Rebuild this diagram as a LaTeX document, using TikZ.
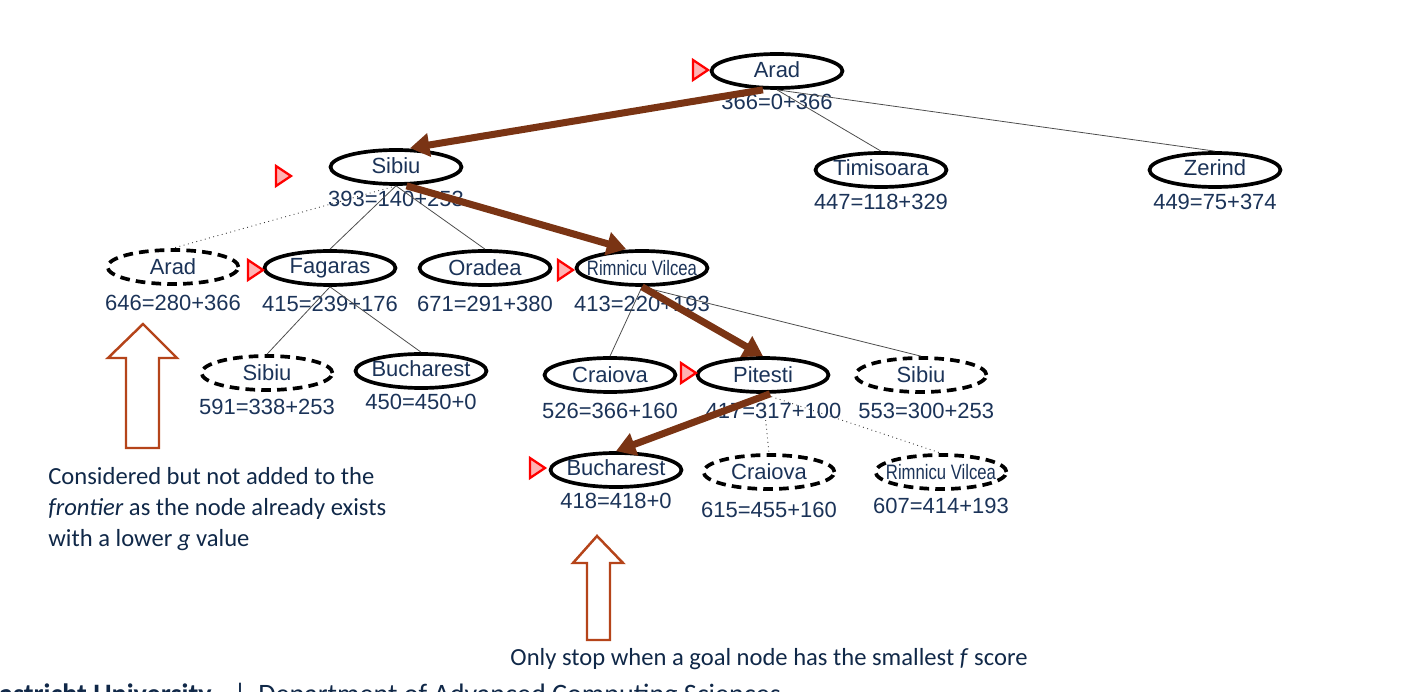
\documentclass[tikz,border=0pt]{standalone}
\usepackage{fontspec}
\setmainfont{Carlito}
\setsansfont{Liberation Sans}
\usetikzlibrary{arrows.meta,positioning,shapes.geometric}
\definecolor{navy}{HTML}{1B3358}
\definecolor{inknavy}{HTML}{102848}
\definecolor{routebrown}{HTML}{7A3414}
\definecolor{hollowred}{HTML}{B5441A}
\newcommand{\narrow}[1]{\makebox[0pt]{\scalebox{0.76}[0.95]{#1}}}
\newcommand{\tight}[2][0pt]{\makebox[0pt]{\raisebox{#1}{#2}}}

\begin{document}
\begin{tikzpicture}[x=0.02cm, y=-0.02cm,
  city/.style={draw, ellipse, line width=2.1pt, minimum width=2.62cm,
    minimum height=0.68cm, inner sep=0pt, text=navy,
    font=\sffamily\fontsize{12.5}{14}\selectfont},
  closed/.style={city, dash pattern=on 5.5pt off 3.5pt},
  score/.style={font=\sffamily\fontsize{12.5}{14}\selectfont, text=navy,
    inner sep=1pt},
  link/.style={draw=black!70, line width=0.45pt},
  prune/.style={draw=black!80, line width=0.5pt, dotted},
  bestlink/.style={routebrown, line width=4pt,
    -{Triangle[length=11pt,width=13pt]}},
  note/.style={font=\fontsize{14}{17.6}\selectfont, text=inknavy,
    align=left, inner sep=0pt},
  hollowarrow/.style={draw=hollowred, line width=1.4pt, fill=white},
  pointer/.pic={\draw[red, fill=red!30, line width=1.3pt]
    (-7,-10) -- (8,0) -- (-7,10) -- cycle;},
]
\useasboundingbox (0,0) rectangle (1418,692);
\clip (0,0) rectangle (1418,692);

% root
\node[city] (arad) at (777,71) {\tight[2pt]{Arad}};
\node[score, below=1pt of arad] (aradf) {366=0+366};

% level 1
\node[city] (sibiu) at (396,167) {\tight[2pt]{Sibiu}};
\node[score, below=2pt of sibiu] (sibiuf) {393=140+253};
\node[city] (timisoara) at (881,170) {\tight[3pt]{Timisoara}};
\node[score, below=2pt of timisoara] (timisoaraf) {447=118+329};
\node[city] (zerind) at (1215,170) {\tight[3pt]{Zerind}};
\node[score, below=2pt of zerind] (zerindf) {449=75+374};

% level 2
\node[closed] (aradb) at (173,267) {Arad};
\node[score, below=4pt of aradb] (aradbf) {646=280+366};
\node[city] (fagaras) at (330,268) {Fagaras};
\node[score, below=4pt of fagaras] (fagarasf) {415=239+176};
\node[city] (oradea) at (485,268) {Oradea};
\node[score, below=4pt of oradea] (oradeaf) {671=291+380};
\node[city] (rimnicu) at (642,268) {\narrow{Rimnicu Vilcea}};
\node[score, below=4pt of rimnicu] (rimnicuf) {413=220+193};

% level 3
\node[closed] (sibiuc) at (267,373) {Sibiu};
\node[score, below=3pt of sibiuc] (sibiucf) {591=338+253};
\node[city] (bucharest) at (421,371) {\tight[3pt]{Bucharest}};
\node[score, below=1pt of bucharest] (bucharestf) {450=450+0};
\node[city] (craiova) at (610,375) {\tight{Craiova}};
\node[score, below=4pt of craiova] (craiovaf) {526=366+160};
\node[city] (pitesti) at (763,375) {Pitesti};
\node[score, below=4pt of pitesti, xshift=6pt] (pitestif) {417=317+100};
\node[closed] (sibiud) at (921,375) {Sibiu};
\node[score, below=4pt of sibiud, xshift=3pt] (sibiudf) {553=300+253};

% level 4
\node[city] (bucharestb) at (616,470) {\tight[3pt]{Bucharest}};
\node[score, below=1pt of bucharestb] (bucharestbf) {418=418+0};
\node[closed] (craiovab) at (769,472) {\tight[-2pt]{Craiova}};
\node[score, below=5pt of craiovab] (craiovabf) {615=455+160};
\node[closed] (rimnicub) at (941,472) {\narrow{Rimnicu Vilcea}};
\node[score, below=3pt of rimnicub] (rimnicubf) {607=414+193};

% connectors
\draw[link] (arad.south) -- (timisoara.north);
\draw[link] (arad.south) -- (zerind.north);
\draw[bestlink] ([xshift=-8pt]arad.south) -- ([xshift=8pt]sibiu.north);

\draw[prune] (sibiu.south) -- (aradb.north);
\draw[link] (sibiu.south) -- (fagaras.north);
\draw[link] (sibiu.south) -- (oradea.north);
\draw[bestlink] ([xshift=6pt]sibiu.south) -- ([xshift=-9pt]rimnicu.north);

\draw[link] (fagaras.south) -- (sibiuc.north);
\draw[link] (fagaras.south) -- (bucharest.north);

\draw[link] (rimnicu.south) -- (craiova.north);
\draw[link] (rimnicu.south) -- (sibiud.north);
\draw[bestlink] (rimnicu.south) -- (pitesti.north);

\draw[prune] (pitesti.south) -- (craiovab.north);
\draw[prune] (pitesti.south) -- (rimnicub.north);
\draw[bestlink] ([xshift=4pt]pitesti.south) -- (bucharestb.north);

% frontier pointers
\pic at (700,70) {pointer};
\pic at (283,176) {pointer};
\pic at (255,270) {pointer};
\pic at (565,270) {pointer};
\pic at (688,373) {pointer};
\pic at (537,468) {pointer};

% callouts
\draw[hollowarrow] (143,324) -- (177,358) -- (159,358) -- (159,448)
  -- (126,448) -- (126,358) -- (108,358) -- cycle;
\draw[hollowarrow] (597,536) -- (623,563) -- (610,563) -- (610,640)
  -- (587,640) -- (587,563) -- (573,563) -- cycle;

\node[note, anchor=north west] (considered) at (48,467)
  {Considered but not added to the\\
   \textit{frontier} as the node already exists\\
   with a lower \textit{g} value};
\node[note, anchor=base] (stopnote) at (769,666)
  {Only stop when a goal node has the smallest \textit{f} score};

% footer
\node[font=\bfseries\fontsize{16}{19}\selectfont, text=inknavy, anchor=base east,
  inner sep=0pt] (uni) at (212,704) {Maastricht University};
\node[font=\fontsize{16}{19}\selectfont, text=inknavy, anchor=base,
  inner sep=0pt] (sep) at (240,704) {|};
\node[font=\fontsize{16}{19}\selectfont, text=inknavy, anchor=base west,
  inner sep=0pt] (dept) at (258,704) {Department of Advanced Computing Sciences};

\end{tikzpicture}
\end{document}
